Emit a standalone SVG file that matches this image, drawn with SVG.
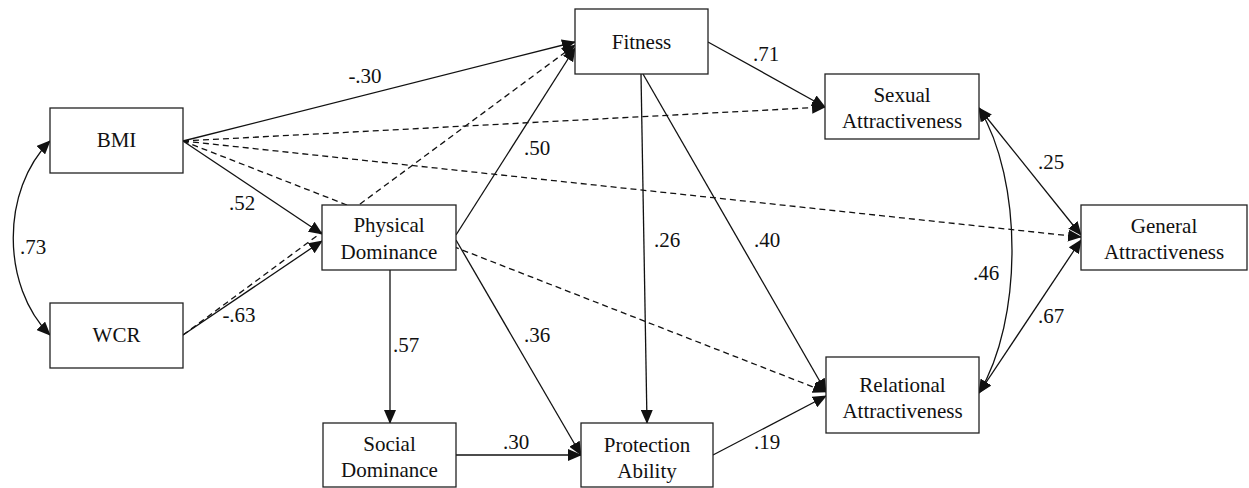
<svg xmlns="http://www.w3.org/2000/svg" width="1249" height="488" viewBox="0 0 1249 488" font-family="Liberation Serif, DejaVu Serif, serif">
<style>
.box{fill:#fff;stroke:#222;stroke-width:1.3}
.t{font-family:"Liberation Serif","DejaVu Serif",serif;font-size:21px;fill:#111;text-anchor:middle}
.l{fill:none;stroke:#111;stroke-width:1.3}
.d{stroke-dasharray:6,4}
</style>
<defs>
<marker id="ah" markerUnits="userSpaceOnUse" markerWidth="14" markerHeight="12" refX="13" refY="6" orient="auto-start-reverse" viewBox="0 0 14 12">
<path d="M0,0 L14,6 L0,12 z" fill="#111"/>
</marker>
</defs>
<g id="connectors">
<line class="l" x1="183" y1="141" x2="575" y2="42" marker-end="url(#ah)"/>
<line class="l d" x1="183" y1="141" x2="825" y2="107" marker-end="url(#ah)"/>
<line class="l d" x1="183" y1="141" x2="1081" y2="237" marker-end="url(#ah)"/>
<line class="l d" x1="183" y1="141" x2="826" y2="392" marker-end="url(#ah)"/>
<line class="l" x1="183" y1="141" x2="322" y2="234" marker-end="url(#ah)"/>
<line class="l" x1="183" y1="335" x2="322" y2="241" marker-end="url(#ah)"/>
<line class="l d" x1="183" y1="335" x2="575" y2="45" marker-end="url(#ah)"/>
<line class="l" x1="456" y1="235" x2="575" y2="48" marker-end="url(#ah)"/>
<line class="l" x1="390" y1="270" x2="390" y2="423" marker-end="url(#ah)"/>
<line class="l" x1="456" y1="240" x2="581" y2="455" marker-end="url(#ah)"/>
<line class="l" x1="456" y1="455" x2="581" y2="455" marker-end="url(#ah)"/>
<line class="l" x1="708" y1="42" x2="825" y2="107" marker-end="url(#ah)"/>
<line class="l" x1="641" y1="74" x2="647" y2="423" marker-end="url(#ah)"/>
<line class="l" x1="643" y1="74" x2="826" y2="392" marker-end="url(#ah)"/>
<line class="l" x1="713" y1="455" x2="826" y2="396" marker-end="url(#ah)"/>
<line class="l" x1="979" y1="108" x2="1081" y2="235" marker-start="url(#ah)" marker-end="url(#ah)"/>
<line class="l" x1="979" y1="393" x2="1081" y2="240" marker-start="url(#ah)" marker-end="url(#ah)"/>
<path class="l" d="M979,108 C1023,180 1023,320 979,393" marker-start="url(#ah)" marker-end="url(#ah)"/>
<path class="l" d="M50,141 C1,190 1,286 50,335" marker-start="url(#ah)" marker-end="url(#ah)"/>
</g>
<g id="labels">
<text class="t" x="365" y="83">-.30</text>
<text class="t" x="242" y="210">.52</text>
<text class="t" x="537" y="155">.50</text>
<text class="t" x="33" y="254">.73</text>
<text class="t" x="239" y="322">-.63</text>
<text class="t" x="406" y="352">.57</text>
<text class="t" x="537" y="342">.36</text>
<text class="t" x="516" y="449">.30</text>
<text class="t" x="766" y="61">.71</text>
<text class="t" x="667" y="247">.26</text>
<text class="t" x="767" y="247">.40</text>
<text class="t" x="767" y="449">.19</text>
<text class="t" x="1051" y="169">.25</text>
<text class="t" x="986" y="280">.46</text>
<text class="t" x="1051" y="323">.67</text>
</g>
<g id="bmi"><rect class="box" x="50" y="108" width="133" height="65"/><text class="t" x="116.5" y="147">BMI</text></g>
<g id="wcr"><rect class="box" x="50" y="303" width="133" height="65"/><text class="t" x="116.5" y="342">WCR</text></g>
<g id="physical-dominance"><rect class="box" x="322" y="205" width="134" height="65"/><text class="t" x="389" y="232">Physical</text><text class="t" x="389" y="259">Dominance</text></g>
<g id="social-dominance"><rect class="box" x="323" y="423" width="133" height="64"/><text class="t" x="389.5" y="451">Social</text><text class="t" x="389.5" y="477">Dominance</text></g>
<g id="fitness"><rect class="box" x="575" y="9" width="133" height="65"/><text class="t" x="641.5" y="49">Fitness</text></g>
<g id="protection-ability"><rect class="box" x="581" y="423" width="132" height="64"/><text class="t" x="647" y="452">Protection</text><text class="t" x="647" y="478">Ability</text></g>
<g id="sexual-attractiveness"><rect class="box" x="825" y="74" width="154" height="65"/><text class="t" x="902" y="102">Sexual</text><text class="t" x="902" y="128">Attractiveness</text></g>
<g id="relational-attractiveness"><rect class="box" x="826" y="357" width="153" height="76"/><text class="t" x="902.5" y="392">Relational</text><text class="t" x="902.5" y="418">Attractiveness</text></g>
<g id="general-attractiveness"><rect class="box" x="1081" y="205" width="166" height="65"/><text class="t" x="1164" y="233">General</text><text class="t" x="1164" y="259">Attractiveness</text></g>
</svg>
